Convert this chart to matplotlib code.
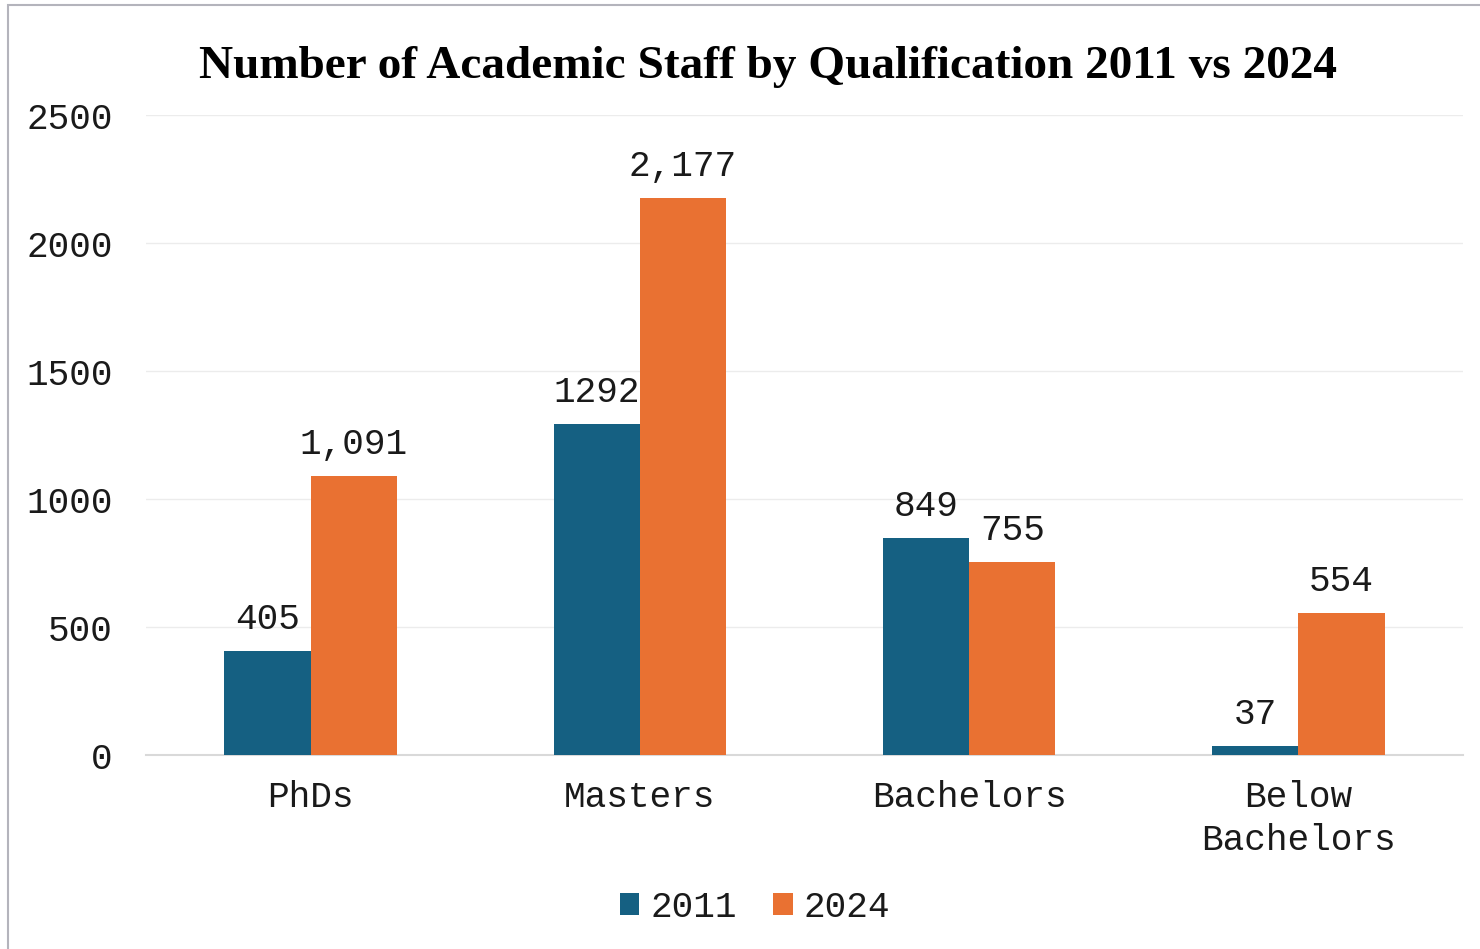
import numpy as np
import matplotlib.pyplot as plt
from matplotlib.patches import Rectangle

categories = ["PhDs", "Masters", "Bachelors", "Below\nBachelors"]
staff_2011 = [405, 1292, 849, 37]
staff_2024 = [1091, 2177, 755, 554]
labels_2011 = ["405", "1292", "849", "37"]
labels_2024 = ["1,091", "2,177", "755", "554"]
yticks = [0, 500, 1000, 1500, 2000, 2500]

blue = "#156082"
orange = "#E97132"
mono = "Liberation Mono"
fs = 26

fig = plt.figure(figsize=(14.8, 9.49), dpi=100)
ax = fig.add_axes([0.0986, 0.2044, 0.8899, 0.6744])

# thin grey frame round the chart
fig.patches.append(Rectangle((8 / 1480, -0.1), 1.2, 1 - 5 / 949 + 0.1,
                             transform=fig.transFigure, fill=False,
                             edgecolor="#b4b4bc", linewidth=1.5))

x = np.arange(len(categories))
w = 0.262
b1 = ax.bar(x - w / 2, staff_2011, w, color=blue, label="2011", zorder=3)
b2 = ax.bar(x + w / 2, staff_2024, w, color=orange, label="2024", zorder=3)

for bars, labs in [(b1, labels_2011), (b2, labels_2024)]:
    for bar, lab in zip(bars, labs):
        ax.annotate(lab, (bar.get_x() + bar.get_width() / 2, bar.get_height()),
                    xytext=(0, 10), textcoords="offset points",
                    ha="center", va="bottom", fontsize=fs, family=mono,
                    color="#1a1a1a")

ax.set_xlim(-0.5, 3.5)
ax.set_ylim(0, 2500)
ax.set_yticks(yticks)
ax.set_yticklabels([str(v) for v in yticks], fontsize=fs, family=mono)
ax.set_xticks(x)
ax.set_xticklabels(categories, fontsize=fs, family=mono, linespacing=1.3)
ax.tick_params(length=0, colors="#1a1a1a")
ax.tick_params(axis="y", pad=24)
ax.tick_params(axis="x", pad=18)
ax.yaxis.grid(True, color="#ececec", linewidth=1, zorder=0)
for s in ["top", "right", "left"]:
    ax.spines[s].set_visible(False)
ax.spines["bottom"].set_color("#d9d9d9")
ax.spines["bottom"].set_linewidth(1.5)

fig.text(0.519, 0.929, "Number of Academic Staff by Qualification 2011 vs 2024",
         ha="center", va="center", fontsize=34, fontweight="bold",
         family="Liberation Serif")

fig.legend(loc="center", bbox_to_anchor=(0.510, 0.044), ncol=2, frameon=False,
           prop={"family": mono, "size": fs}, handlelength=0.55, handleheight=0.55,
           handletextpad=0.3, columnspacing=1.0, labelcolor="#1a1a1a")

fig.savefig("out.png", dpi=100)
